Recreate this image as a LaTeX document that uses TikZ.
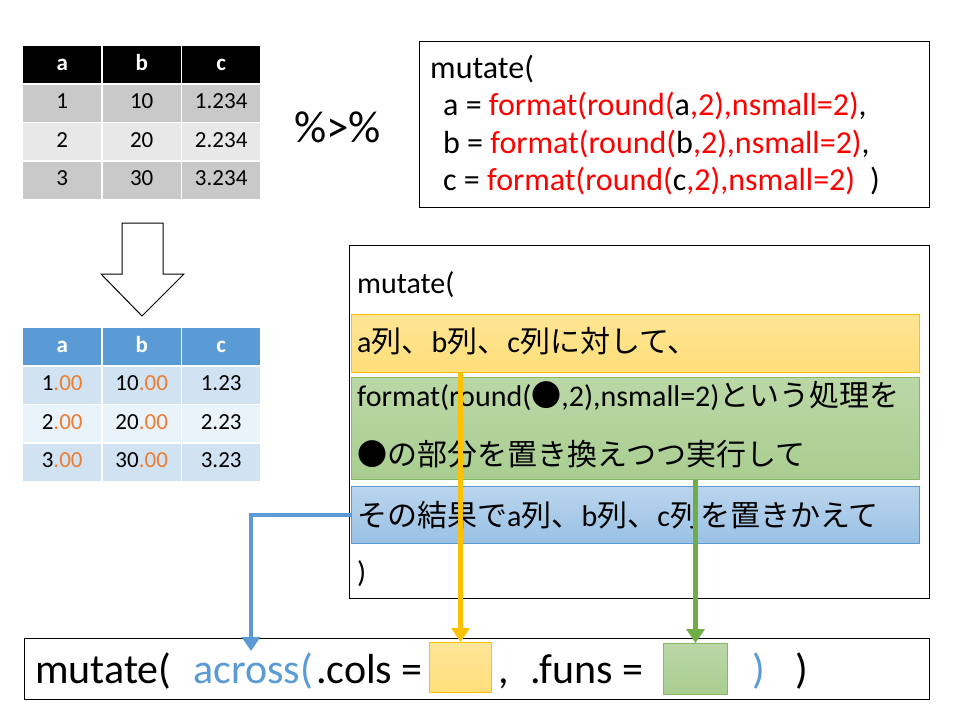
\documentclass[tikz,border=0pt]{standalone}
\usepackage{fontspec}
\setmainfont{Carlito}
\newfontfamily\jp{Noto Sans CJK JP}
\usetikzlibrary{matrix,arrows.meta,positioning}

\definecolor{codered}{HTML}{FF0000}
\definecolor{acblue}{HTML}{5B9BD5}
\definecolor{dotorange}{HTML}{ED7D31}
\definecolor{gold}{HTML}{FFC000}
\definecolor{leafgreen}{HTML}{70AD47}
\newcommand{\fsz}[1]{\fontsize{#1}{#1}\selectfont}
\newcommand{\dz}{\textcolor{dotorange}{.00}}

\begin{document}
\begin{tikzpicture}[x=1pt,y=-1pt,>={Triangle[width=18pt,length=14pt]},
  tbl/.style={matrix of nodes,column sep=1.5pt,row sep=1.5pt,anchor=north west,inner sep=0pt,
    nodes={minimum width=78pt,minimum height=37pt,inner sep=0pt,anchor=center,
      text height=16pt,text depth=5pt,font=\fsz{23}}},
  frame/.style={draw,line width=1.2pt,anchor=north west,inner sep=0pt},
  code/.style={anchor=base west,inner sep=0pt,font=\fsz{#1}},
  band/.style={draw=#1,line width=1pt,anchor=north west,inner sep=0pt,minimum width=568pt},
  link/.style={draw=#1,line width=4.5pt,->}]

  \fill[white] (0,0) rectangle (960,720);
  \useasboundingbox (0,0) rectangle (960,720);

  % input table
  \matrix (intbl) [tbl,
    row 1/.style={nodes={fill=black,text=white,font=\fsz{23}\bfseries}},
    row 2/.style={nodes={fill=black!21}},
    row 3/.style={nodes={fill=black!9}},
    row 4/.style={nodes={fill=black!21}}] at (23,46) {
    a & b & c \\
    1 & 10 & 1.234 \\
    2 & 20 & 2.234 \\
    3 & 30 & 3.234 \\
  };

  \node[code=45] (pipe) at (294,142) {\%>\%};

  % down arrow between tables
  \draw[line width=1pt] (122,223) -- (163,223) -- (163,274) -- (184,274) -- (142,316)
    -- (101,274) -- (122,274) -- cycle;

  % output table
  \matrix (outtbl) [tbl,
    row 1/.style={nodes={fill=acblue,text=white,font=\fsz{23}\bfseries}},
    row 2/.style={nodes={fill=acblue!28}},
    row 3/.style={nodes={fill=acblue!13}},
    row 4/.style={nodes={fill=acblue!28}}] at (23,328) {
    a & b & c \\
    1\dz & 10\dz & 1.23 \\
    2\dz & 20\dz & 2.23 \\
    3\dz & 30\dz & 3.23 \\
  };

  % long form
  \node[frame,minimum width=510pt,minimum height=166pt] (codebox) at (419,41) {};
  \node[code=32] (mline0) at (430,78) {mutate(};
  \node[code=32] (mline1) at (443,115) {a = \textcolor{codered}{format(round(}a\textcolor{codered}{,2),nsmall=2)},};
  \node[code=32] (mline2) at (443,153) {b = \textcolor{codered}{format(round(}b\textcolor{codered}{,2),nsmall=2)},};
  \node[code=32] (mline3) at (443,190) {c = \textcolor{codered}{format(round(}c\textcolor{codered}{,2),nsmall=2)}\hspace{15pt})};

  % explanation
  \node[frame,minimum width=580pt,minimum height=353pt] (explbox) at (349,245) {};
  \node[band=gold,top color=gold!42,bottom color=gold!52,minimum height=58pt] (orangeband) at (351,314) {};
  \node[band=leafgreen!85,top color=leafgreen!48,bottom color=leafgreen!60,minimum height=102pt] (greenband) at (351,377) {};
  \node[band=acblue,top color=acblue!42,bottom color=acblue!62,minimum height=57pt] (blueband) at (351,486) {};
  \node[code=30] (midopen) at (357,293) {mutate(};
  \node[code=30] (coltxt) at (357,352) {a{\jp 列、}b{\jp 列、}c{\jp 列に対して、}};
  \node[code=30] (funtxt) at (357,406) {format(round({\jp ●},2),nsmall=2){\jp という処理を}};
  \node[code=30] (runtxt) at (357,465) {\jp ●の部分を置き換えつつ実行して};
  \node[code=30] (repltxt) at (357,526) {{\jp その結果で}a{\jp 列、}b{\jp 列、}c{\jp 列を置きかえて}};
  \node[code=30] (midclose) at (357,582) {)};

  % across form
  \node[frame,minimum width=905pt,minimum height=61pt] (callbox) at (24,638) {};
  \node[draw=gold,line width=1pt,top color=gold!40,bottom color=gold!52,anchor=north west,
    minimum width=62pt,minimum height=50pt] (colbox) at (429,642) {};
  \node[draw=leafgreen!85,line width=1pt,top color=leafgreen!48,bottom color=leafgreen!60,anchor=north west,
    minimum width=64pt,minimum height=51pt] (funbox) at (663,643) {};
  \node[code=42] (bopen) at (35,683) {mutate(};
  \node[code=42,text=acblue] (across) at (193,683) {across(};
  \node[code=42] (colsarg) at (316,683) {.cols =};
  \node[code=42] (comma) at (498,683) {,};
  \node[code=42] (funsarg) at (530,683) {.funs =};
  \node[code=42,text=acblue] (acclose) at (752,683) {)};
  \node[code=42] (bclose) at (795,683) {)};
  \coordinate (acrossin) at (251,651);

  \path[link=acblue,line width=3.5pt] (blueband.west) -| (acrossin);
  \path[link=gold] (colbox.north |- orangeband.south) -- (colbox.north);
  \path[link=leafgreen] (funbox.north |- greenband.south) -- (funbox.north);
\end{tikzpicture}
\end{document}
